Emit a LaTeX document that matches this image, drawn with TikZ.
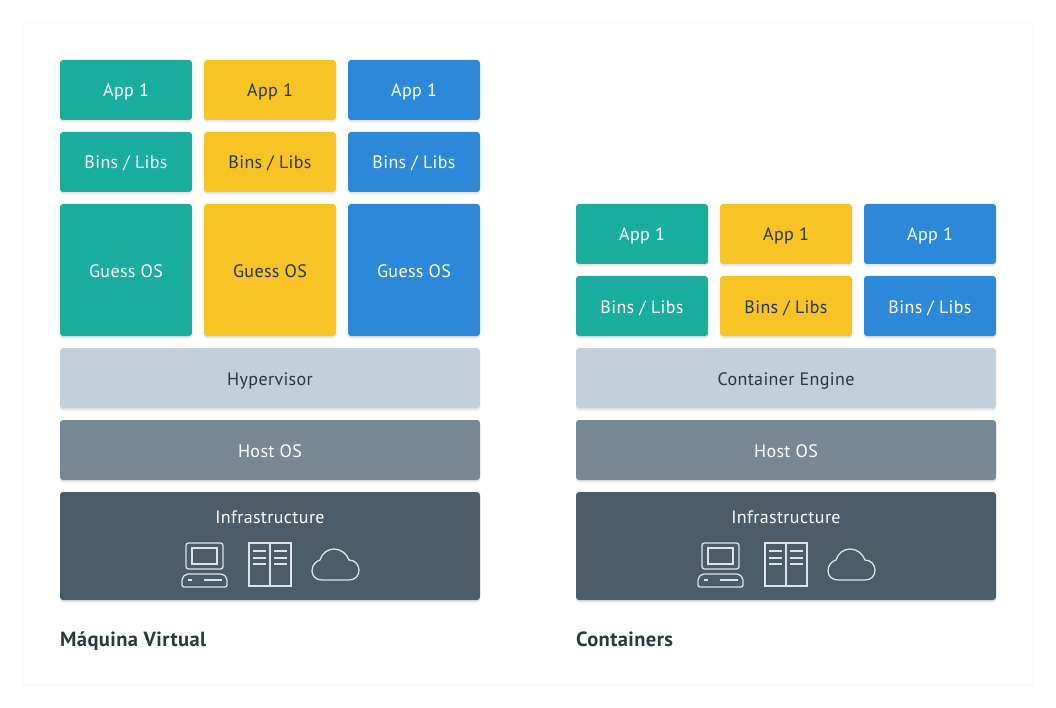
\documentclass[tikz,border=0pt]{standalone}
\usepackage{fontspec}
\setmainfont{PT Sans}
\usetikzlibrary{shadows}
\definecolor{teal}{HTML}{1AAE9F}
\definecolor{gold}{HTML}{F7C325}
\definecolor{azure}{HTML}{2C88D9}
\definecolor{mist}{HTML}{C3CFD9}
\definecolor{slate}{HTML}{788896}
\definecolor{dusk}{HTML}{4B5C6B}
\definecolor{ink}{HTML}{293845}
\definecolor{iconline}{HTML}{DDE3E8}
\definecolor{panel}{HTML}{FBFBFB}
\newcommand{\layerfont}{\fontsize{18}{21}\selectfont\addfontfeatures{LetterSpace=2}}
\newcommand{\titlefont}{\fontsize{20.5}{24}\selectfont\bfseries\addfontfeatures{LetterSpace=2}}
\tikzset{
  label/.style={inner sep=0pt,text height=14pt,text depth=0pt,font=\layerfont},
  layer/.style={label,rectangle,rounded corners=3pt,
    drop shadow={shadow xshift=0pt,shadow yshift=-3pt,opacity=.04,fill=black},
    drop shadow={shadow xshift=0pt,shadow yshift=-1.5pt,opacity=.07,fill=black}},
  small/.style={layer,minimum width=132pt,minimum height=60pt},
  tall/.style={layer,minimum width=132pt,minimum height=132pt},
  wide/.style={layer,minimum width=420pt,minimum height=60pt},
  base/.style={layer,minimum width=420pt,minimum height=108pt},
  title/.style={anchor=west,inner sep=0pt,text height=14pt,text depth=0pt,text=ink,font=\titlefont},
  icon/.style={draw=iconline,line width=1.3pt},
  pics/infraicons/.style={code={
    % computer
    \draw[icon,rounded corners=2.5pt] (-84,-3) rectangle (-47,23);
    \draw[icon] (-78,2) rectangle (-53,18);
    \draw[icon,rounded corners=2pt] (-84,28) -- (-47,28) -- (-43,32) -- (-43,41) -- (-88,41) -- (-88,32) -- cycle;
    \draw[icon] (-82,34) -- (-78,34);
    \draw[icon] (-66,34) -- (-48,34);
    % server
    \draw[icon] (-21,-3) rectangle (21,40);
    \draw[icon] (0,-3) -- (0,40);
    \draw[icon] (-17,5) -- (-4,5);
    \draw[icon] (-17,12) -- (-4,12);
    \draw[icon] (-17,18) -- (-4,18);
    \draw[icon] (4,5) -- (17,5);
    \draw[icon] (4,12) -- (17,12);
    \draw[icon] (4,18) -- (17,18);
    % cloud
    \draw[icon] (52,34) .. controls (46,34) and (42,30) .. (42,25)
      .. controls (42,19) and (46,15) .. (50,14)
      .. controls (52,7) and (58,3) .. (64,3)
      .. controls (71,3) and (77,8) .. (79,14)
      .. controls (85,14) and (89,19) .. (89,24)
      .. controls (89,30) and (85,34) .. (79,34) -- cycle;
  }}
}
\begin{document}
\begin{tikzpicture}[x=1pt,y=-1pt]
\useasboundingbox (0,0) rectangle (1056,708);
\fill[white] (0,0) rectangle (1056,708);
\fill[panel] (22,23) rectangle (1034,686);
\fill[white] (24,24) rectangle (1032,684);
% virtual machine
\node[small,fill=teal,text=white] (vmappa) at (126,90) {App 1};
\node[small,fill=gold,text=ink] (vmappb) at (270,90) {App 1};
\node[small,fill=azure,text=white] (vmappc) at (414,90) {App 1};
\node[small,fill=teal,text=white] (vmbinsa) at (126,162) {Bins / Libs};
\node[small,fill=gold,text=ink] (vmbinsb) at (270,162) {Bins / Libs};
\node[small,fill=azure,text=white] (vmbinsc) at (414,162) {Bins / Libs};
\node[tall,fill=teal,text=white] (vmosa) at (126,270) {Guess OS};
\node[tall,fill=gold,text=ink] (vmosb) at (270,270) {Guess OS};
\node[tall,fill=azure,text=white] (vmosc) at (414,270) {Guess OS};
\node[wide,fill=mist,text=ink] (vmhyper) at (270,378) {Hypervisor};
\node[wide,fill=slate,text=white] (vmhost) at (270,450) {Host OS};
\node[base,fill=dusk] (vminfra) at (270,546) {};
\node[label,text=white] (vminfratext) at (270,516) {Infrastructure};
\pic at (vminfra.center) {infraicons};
\node[title] (vmtitle) at (60,639) {Máquina Virtual};
% containers
\node[small,fill=teal,text=white] (ctappa) at (642,234) {App 1};
\node[small,fill=gold,text=ink] (ctappb) at (786,234) {App 1};
\node[small,fill=azure,text=white] (ctappc) at (930,234) {App 1};
\node[small,fill=teal,text=white] (ctbinsa) at (642,306) {Bins / Libs};
\node[small,fill=gold,text=ink] (ctbinsb) at (786,306) {Bins / Libs};
\node[small,fill=azure,text=white] (ctbinsc) at (930,306) {Bins / Libs};
\node[wide,fill=mist,text=ink] (ctengine) at (786,378) {Container Engine};
\node[wide,fill=slate,text=white] (cthost) at (786,450) {Host OS};
\node[base,fill=dusk] (ctinfra) at (786,546) {};
\node[label,text=white] (ctinfratext) at (786,516) {Infrastructure};
\pic at (ctinfra.center) {infraicons};
\node[title] (cttitle) at (576,639) {Containers};
\end{tikzpicture}
\end{document}
